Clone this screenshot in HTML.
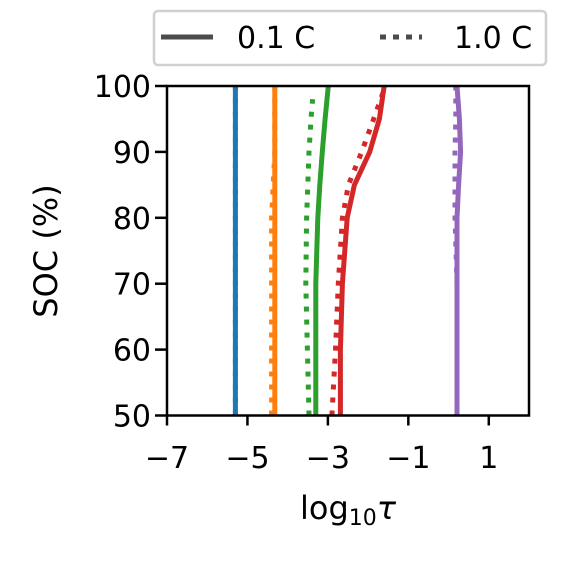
<!DOCTYPE html>
<html><head><meta charset="utf-8"><style>
html,body{margin:0;padding:0;background:#fff;}
svg text{font-family:"DejaVu Sans","Liberation Sans",sans-serif;fill:#000;}
</style></head><body>
<svg id="chart" width="566" height="570" viewBox="0 0 566 570">
<g id="marks"></g>
<rect x="167" y="86" width="362" height="329.5" fill="none" stroke="#000" stroke-width="2.5"/>
<g id="axes"></g>
<text x="0" y="0" font-size="32" text-anchor="middle" transform="translate(57,251) rotate(-90)">SOC (%)</text>
<text x="348" y="519" font-size="32" text-anchor="middle">log<tspan font-size="22" dy="6">10</tspan><tspan dy="-6" font-style="italic">τ</tspan></text>
<g>
<rect x="154" y="11" width="392" height="54" rx="4" fill="#fff" stroke="#d0d0d0" stroke-width="2.5"/>
<line x1="161" y1="37" x2="213" y2="37" stroke="#4c4c4c" stroke-width="5"/>
<text x="237" y="48" font-size="30">0.1 C</text>
<line x1="380" y1="37" x2="422" y2="37" stroke="#4c4c4c" stroke-width="5" stroke-dasharray="6,7"/>
<text x="454" y="48" font-size="30">1.0 C</text>
</g>
</svg>
<script>
const socLevels = [50, 60, 70, 80, 85, 90, 95, 100];
const blueSolid   = [-5.30,-5.30,-5.30,-5.30,-5.30,-5.30,-5.30,-5.30];
const blueDotted  = [-5.30,-5.30,-5.30,-5.30,-5.30,-5.30,-5.30,-5.30];
const orangeSolid = [-4.32,-4.32,-4.32,-4.32,-4.32,-4.32,-4.32,-4.32];
const orangeDotted= [-4.40,-4.40,-4.40,-4.40,-4.36,-4.32,-4.32,-4.32];
const greenSolid  = [-3.30,-3.30,-3.30,-3.25,-3.20,-3.14,-3.07,-2.99];
const greenDotted = [-3.47,-3.51,-3.55,-3.53,-3.50,-3.47,-3.42,-3.38];
const redSolid    = [-2.69,-2.69,-2.64,-2.52,-2.34,-1.96,-1.72,-1.60];
const redDotted   = [-2.90,-2.81,-2.74,-2.64,-2.49,-2.16,-1.86,-1.57];
const purpleSolid = [0.21,0.21,0.21,0.21,0.25,0.30,0.27,0.21];
const purpleDotted= [0.21,0.21,0.21,0.16,0.16,0.16,0.18,0.18];
const xTicks = [-7,-5,-3,-1,1];
const xTickLabels = ["\u22127","\u22125","\u22123","\u22121","1"];
const yTicks = [50,60,70,80,90,100];
const yTickLabels = ["50","60","70","80","90","100"];

const X0=167,X1=529,Y0=415.5,Y1=86;
function sx(v){return X0+(v-(-7))/(2-(-7))*(X1-X0);}
function sy(v){return Y0-(v-50)/(100-50)*(Y0-Y1);}
const NS="http://www.w3.org/2000/svg";
const marks=document.getElementById('marks');
const axes=document.getElementById('axes');
const series=[
 ['blue-solid',blueSolid,'#1f77b4',false],['blue-dotted',blueDotted,'#1f77b4',true],
 ['orange-solid',orangeSolid,'#ff7f0e',false],['orange-dotted',orangeDotted,'#ff7f0e',true],
 ['green-solid',greenSolid,'#2ca02c',false],['green-dotted',greenDotted,'#2ca02c',true],
 ['red-solid',redSolid,'#d62728',false],['red-dotted',redDotted,'#d62728',true],
 ['purple-solid',purpleSolid,'#9467bd',false],['purple-dotted',purpleDotted,'#9467bd',true]
];
const maxSoc=[100,100,100,100,100,98,100,100,100,100];
series.forEach((s,i)=>{
  const p=document.createElementNS(NS,'polyline');
  let pts=[];
  for(let k=0;k<socLevels.length;k++){
    let y=socLevels[k];
    if(y>maxSoc[i]) y=maxSoc[i];
    pts.push(sx(s[1][k]).toFixed(1)+','+sy(y).toFixed(1));
  }
  p.setAttribute('points',pts.join(' '));
  p.setAttribute('fill','none');
  p.setAttribute('stroke',s[2]);
  p.setAttribute('stroke-width','5');
  p.setAttribute('stroke-linejoin','round');
  if(s[3]) p.setAttribute('stroke-dasharray','5,8');
  
  
  marks.appendChild(p);
});
xTicks.forEach((t,i)=>{
  const l=document.createElementNS(NS,'line');
  l.setAttribute('x1',sx(t));l.setAttribute('x2',sx(t));
  l.setAttribute('y1',Y0);l.setAttribute('y2',Y0+10);
  l.setAttribute('stroke','#000');l.setAttribute('stroke-width','2.5');
  
  
  axes.appendChild(l);
  const tx=document.createElementNS(NS,'text');
  tx.setAttribute('x',sx(t));tx.setAttribute('y',468);
  tx.setAttribute('font-size','30');tx.setAttribute('text-anchor','middle');
  tx.textContent=xTickLabels[i];
  
  
  axes.appendChild(tx);
});
yTicks.forEach((t,i)=>{
  const l=document.createElementNS(NS,'line');
  l.setAttribute('x1',X0-12);l.setAttribute('x2',X0);
  l.setAttribute('y1',sy(t));l.setAttribute('y2',sy(t));
  l.setAttribute('stroke','#000');l.setAttribute('stroke-width','2.5');
  
  
  axes.appendChild(l);
  const tx=document.createElementNS(NS,'text');
  tx.setAttribute('x',X0-16);tx.setAttribute('y',sy(t)+11);
  tx.setAttribute('font-size','30');tx.setAttribute('text-anchor','end');
  tx.textContent=yTickLabels[i];
  
  
  axes.appendChild(tx);
});
</script>
</body></html>
